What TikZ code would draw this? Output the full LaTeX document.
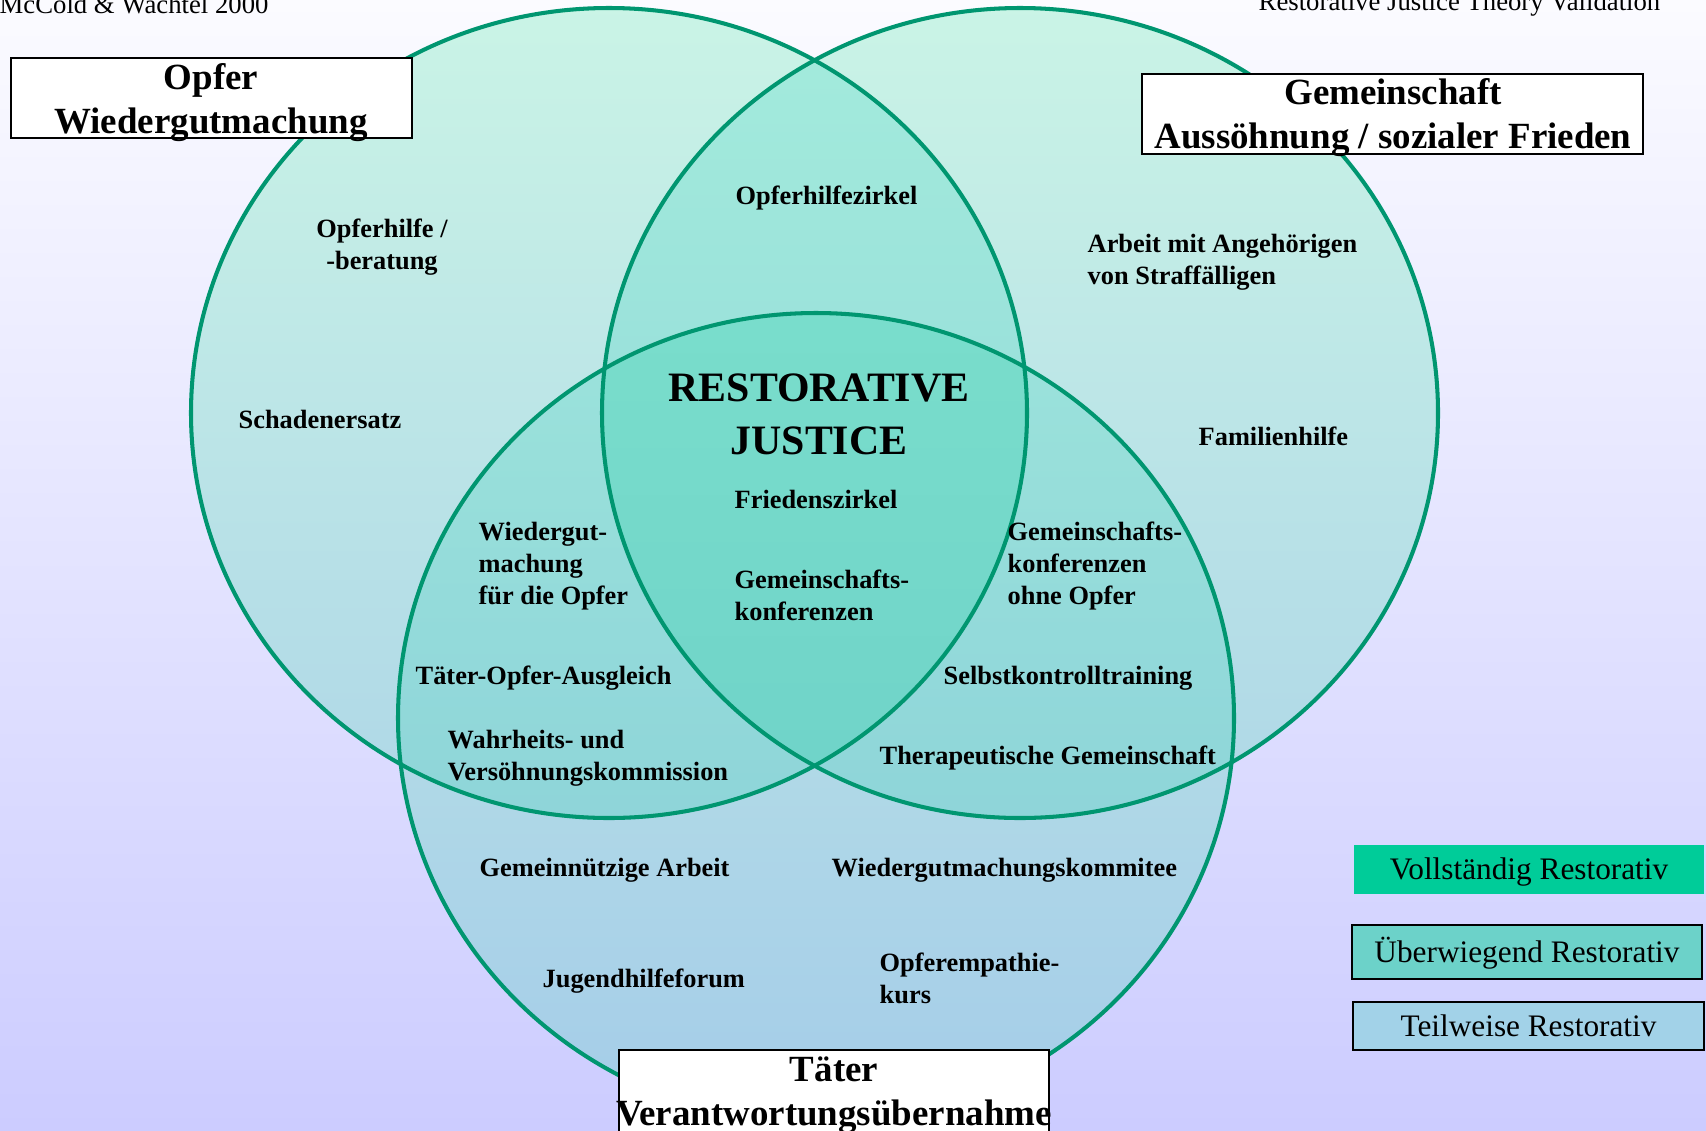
\documentclass[tikz,border=0pt]{standalone}
\usepackage{fontspec}
\setmainfont{Liberation Serif}
\definecolor{ringline}{HTML}{009670}
\definecolor{bgtop}{HTML}{FBFBFF}
\definecolor{bgbot}{HTML}{CCCCFF}
\definecolor{onetop}{HTML}{CAF4E6}
\definecolor{onebot}{HTML}{A4CCE8}
\definecolor{twotop}{HTML}{A4ECDC}
\definecolor{twobot}{HTML}{86CCD8}
\definecolor{threetop}{HTML}{80E4CE}
\definecolor{threebot}{HTML}{68CCC6}
\definecolor{fullcol}{HTML}{00CC99}
\definecolor{mostcol}{HTML}{6CD2C9}
\definecolor{partcol}{HTML}{A2D2E8}
\begin{document}
\begin{tikzpicture}
  [x=0.01cm,y=-0.01cm,every node/.style={inner sep=0pt},
   item/.style={font=\fontsize{7.5}{9}\selectfont\bfseries,align=left,anchor=base west},
   boxtitle/.style={font=\fontsize{10.5}{12.5}\selectfont\bfseries,align=center,anchor=base},
   labelbox/.style={draw,line width=0.6pt,fill=white},
   legendbox/.style={draw,line width=0.6pt,font=\fontsize{8.9}{10}\selectfont,minimum width=3.5cm,text height=0.2cm,text depth=0cm},
   ring/.style={draw=ringline,line width=1.15pt}]
  \useasboundingbox (0,0) rectangle (1706,1130);
  \shade[top color=bgtop,bottom color=bgbot] (0,0) rectangle (1706,1130);

  \foreach \cx/\cy in {609/413,1020/413,816/718}{
    \begin{scope}
      \clip (\cx,\cy) ellipse [x radius=418,y radius=405];
      \shade[top color=onetop,bottom color=onebot] (0,0) rectangle (1706,1130);
    \end{scope}}
  \foreach \ax/\ay/\bx/\by in {609/413/1020/413,609/413/816/718,1020/413/816/718}{
    \begin{scope}
      \clip (\ax,\ay) ellipse [x radius=418,y radius=405];
      \clip (\bx,\by) ellipse [x radius=418,y radius=405];
      \shade[top color=twotop,bottom color=twobot] (0,0) rectangle (1706,1130);
    \end{scope}}
  \begin{scope}
    \clip (609,413) ellipse [x radius=418,y radius=405];
    \clip (1020,413) ellipse [x radius=418,y radius=405];
    \clip (816,718) ellipse [x radius=418,y radius=405];
    \shade[top color=threetop,bottom color=threebot] (0,0) rectangle (1706,1130);
  \end{scope}
  \foreach \cx/\cy in {609/413,1020/413,816/718}
    \path[ring] (\cx,\cy) ellipse [x radius=418,y radius=405];

  \node[anchor=base west,font=\fontsize{7.6}{9}\selectfont] (source) at (-1,13) {McCold \& Wachtel 2000};
  \node[anchor=base west,font=\fontsize{7.6}{9}\selectfont] (heading) at (1258,10) {Restorative Justice Theory Validation};

  \draw[labelbox] (11,58) rectangle (412,138);
  \draw[labelbox] (1142,74) rectangle (1643,154);
  \draw[labelbox] (619,1050) rectangle (1049,1145);
  \node[boxtitle] (opfer) at (211,133) {Opfer\\Wiedergutmachung};
  \node[boxtitle] (gemeinschaft) at (1393,148) {Gemeinschaft\\Aussöhnung / sozialer Frieden};
  \node[boxtitle] (taeter) at (834,1125) {Täter\\Verantwortungsübernahme};

  \node[boxtitle,font=\fontsize{11.9}{14.8}\selectfont\bfseries] (rj) at (819,454) {RESTORATIVE\\JUSTICE};

  \node[item,align=center,anchor=base] (opferhilfe) at (382,269) {Opferhilfe /\\-beratung};
  \node[item] (schaden) at (238,428) {Schadenersatz};
  \node[item] (ohzirkel) at (735,204) {Opferhilfezirkel};
  \node[item] (angehoerige) at (1087,284) {Arbeit mit Angehörigen\\von Straffälligen};
  \node[item] (familie) at (1198,445) {Familienhilfe};
  \node[item] (frieden) at (734,508) {Friedenszirkel};
  \node[item] (gkonf) at (734,620) {Gemeinschafts-\\konferenzen};
  \node[item] (wgopfer) at (478,604) {Wiedergut-\\machung\\für die Opfer};
  \node[item] (gkonfohne) at (1007,604) {Gemeinschafts-\\konferenzen\\ohne Opfer};
  \node[item] (toa) at (415,684) {Täter-Opfer-Ausgleich};
  \node[item] (selbst) at (943,684) {Selbstkontrolltraining};
  \node[item] (wahrheit) at (447,780) {Wahrheits- und\\Versöhnungskommission};
  \node[item] (thera) at (879,764) {Therapeutische Gemeinschaft};
  \node[item] (gemarbeit) at (479,876) {Gemeinnützige Arbeit};
  \node[item] (wgkomm) at (831,876) {Wiedergutmachungskommitee};
  \node[item] (jugend) at (542,987) {Jugendhilfeforum};
  \node[item] (empathie) at (879,1003) {Opferempathie-\\kurs};

  \node[legendbox,draw=none,fill=fullcol,minimum height=0.49cm] (voll) at (1529,869.5) {Vollständig Restorativ};
  \node[legendbox,fill=mostcol,minimum height=0.54cm] (ueber) at (1527,952) {Überwiegend Restorativ};
  \node[legendbox,fill=partcol,minimum height=0.48cm] (teil) at (1528.5,1026) {Teilweise Restorativ};
\end{tikzpicture}
\end{document}
